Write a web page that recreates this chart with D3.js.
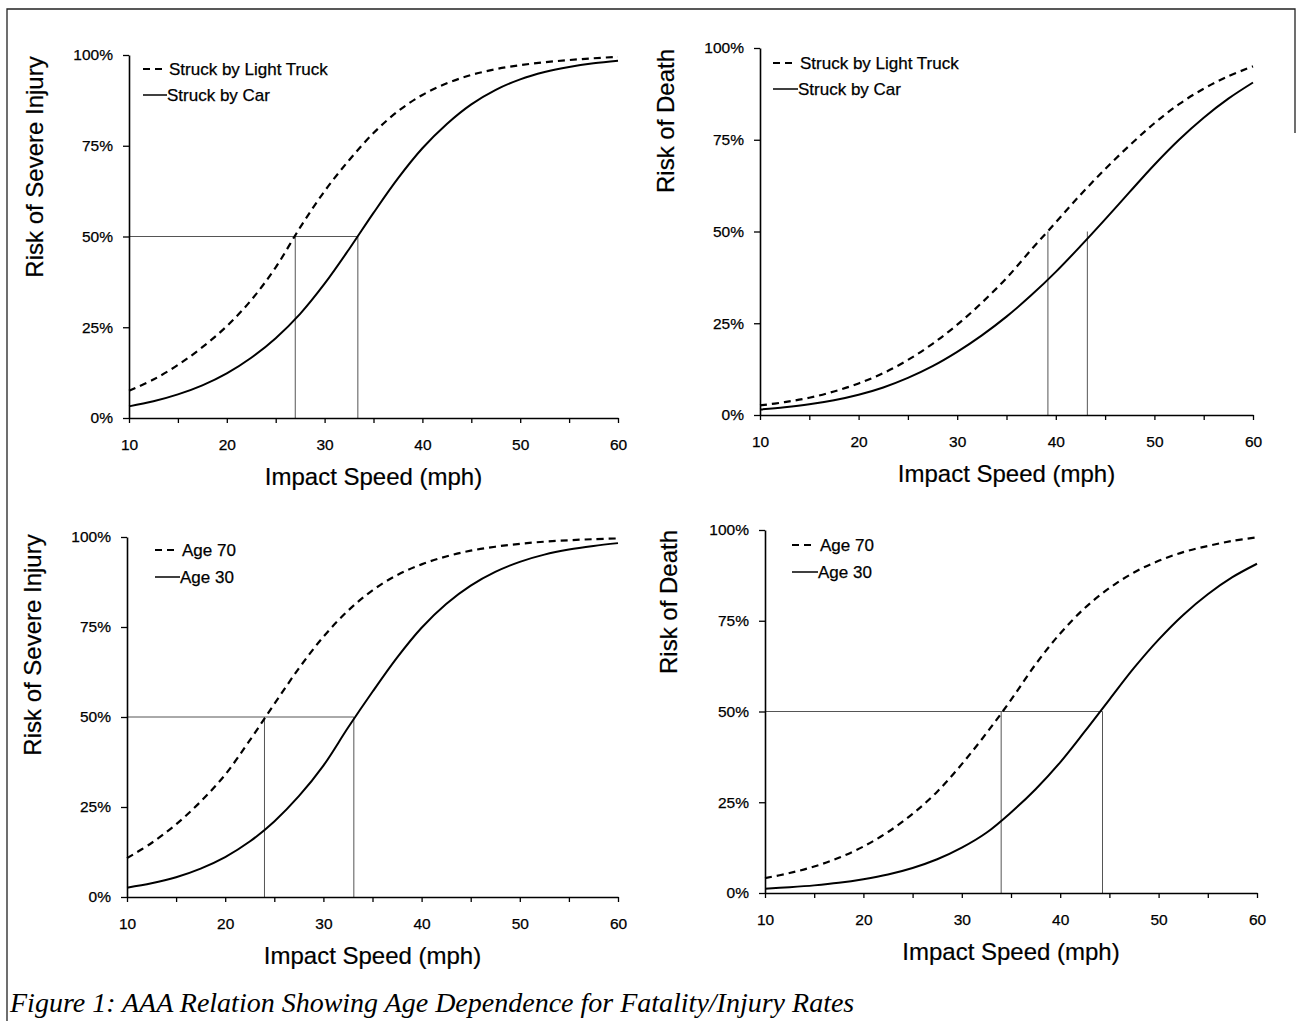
<!DOCTYPE html>
<html>
<head>
<meta charset="utf-8">
<script src="https://cdn.jsdelivr.net/npm/d3@7"></script>
<style>
  html, body { margin: 0; padding: 0; background: #fff; }
  svg { display: block; }
</style>
</head>
<body>
<script>
// ---------- DATA ----------
const speeds = [10, 12.5, 15, 17.5, 20, 22.5, 25, 27.5, 30, 32.5, 35, 37.5, 40, 42.5, 45, 47.5, 50, 52.5, 55, 57.5, 60];

// Top-left: Risk of severe injury by vehicle type (%)
const injuryTruck = [7.5, 10.6, 14.6, 19.5, 25.3, 32.5, 41.5, 52.5, 62.5, 71, 78.5, 84.5, 89, 92.2, 94.5, 96.1, 97.2, 98, 98.6, 99.1, 99.5];
const injuryCar   = [3.2, 4.6, 6.5, 9, 12.3, 16.6, 22, 28.7, 37, 46.5, 56.5, 66, 74.3, 81, 86.4, 90.4, 93.3, 95.3, 96.7, 97.7, 98.4];

// Top-right: Risk of death by vehicle type (%)
const deathTruck = [2.6, 3.5, 4.7, 6.4, 8.6, 11.4, 15, 19.4, 24.6, 30.6, 37.3, 45, 52.5, 60, 67, 73.5, 79.5, 84.7, 88.9, 92.3, 95];
const deathCar   = [1.5, 2.1, 2.9, 4, 5.5, 7.5, 10.1, 13.3, 17.2, 21.7, 26.8, 32.6, 39, 46, 53.3, 60.8, 68.2, 75, 81, 86.2, 90.6];

// Bottom-left: Risk of severe injury by age (%)
const injuryAge70 = [10.8, 15, 20.2, 26.5, 34, 43.5, 53.6, 63.5, 72.3, 79.5, 85.2, 89.4, 92.4, 94.6, 96.2, 97.3, 98.1, 98.7, 99.1, 99.4, 99.6];
const injuryAge30 = [2.6, 3.8, 5.5, 7.9, 11.1, 15.4, 21, 28, 36.5, 47, 57, 66.5, 74.8, 81.4, 86.5, 90.3, 93.1, 95.1, 96.5, 97.5, 98.3];

// Bottom-right: Risk of death by age (%)
const deathAge70 = [4.1, 5.5, 7.3, 9.7, 12.8, 16.8, 21.8, 27.9, 35.5, 44, 53.2, 63, 71.5, 78.5, 84, 88.3, 91.5, 93.9, 95.6, 97, 98];
const deathAge30 = [1.2, 1.6, 2.1, 2.8, 3.8, 5.1, 6.9, 9.3, 12.5, 16.6, 22.2, 28.6, 36, 44.5, 53.3, 62, 69.8, 76.6, 82.3, 87, 90.7];

// 50% reference speeds (mph)
const injuryVehicle50 = [27.0, 33.4];
const deathVehicle50  = [39.2, 43.2];
const injuryAge50     = [24.0, 33.1];
const deathAge50      = [34.0, 44.3];

const xTicks = [10, 15, 20, 25, 30, 35, 40, 45, 50, 55, 60];
const xTickLabels = [10, 20, 30, 40, 50, 60];
const yTicks = [0, 25, 50, 75, 100];

const vehicleLabels = ["Struck by Light Truck", "Struck by Car"];
const ageLabels = ["Age 70", "Age 30"];
const yTitleInjury = "Risk of Severe Injury";
const yTitleDeath = "Risk of Death";
const xTitle = "Impact Speed (mph)";
const caption = "Figure 1: AAA Relation Showing Age Dependence for Fatality/Injury Rates";

// ---------- LAYOUT ----------
const W = 1296, H = 1021;
const SANS = "'Liberation Sans', Arial, sans-serif";
const SERIF = "'Liberation Serif', 'Times New Roman', serif";
const panels = [
  { x0: 129, x1: 618, yTop: 55, yBot: 418, dashed: injuryTruck, solid: injuryCar, labels: vehicleLabels,
    yTitle: yTitleInjury, yTitleX: 35, yTitleY: 167, ref: injuryVehicle50, hLine: true,
    leg: { lx: 143, tx: 167, y1: 69, y2: 95 } },
  { x0: 760, x1: 1253, yTop: 48, yBot: 415, dashed: deathTruck, solid: deathCar, labels: vehicleLabels,
    yTitle: yTitleDeath, yTitleX: 666, yTitleY: 121, ref: deathVehicle50, hLine: false,
    leg: { lx: 773, tx: 798, y1: 63, y2: 89 } },
  { x0: 127, x1: 618, yTop: 537, yBot: 897, dashed: injuryAge70, solid: injuryAge30, labels: ageLabels,
    yTitle: yTitleInjury, yTitleX: 33, yTitleY: 645, ref: injuryAge50, hLine: true,
    leg: { lx: 155, tx: 180, y1: 550, y2: 577 } },
  { x0: 765, x1: 1257, yTop: 530, yBot: 893, dashed: deathAge70, solid: deathAge30, labels: ageLabels,
    yTitle: yTitleDeath, yTitleX: 669, yTitleY: 602, ref: deathAge50, hLine: true,
    leg: { lx: 792, tx: 818, y1: 545, y2: 572 } }
];

const svg = d3.select("body").append("svg").attr("width", W).attr("height", H);

// frame
svg.append("path").attr("d", `M7,${H} V9 H1295 V133`).attr("fill", "none").attr("stroke", "#222").attr("stroke-width", 1.3);

function txt(sel, size) {
  return sel.style("font-family", SANS).style("font-size", size + "px").style("fill", "#000")
    .style("stroke", "#000").style("stroke-width", "0.25px");
}

panels.forEach(p => {
  const g = svg.append("g");
  const x = d3.scaleLinear().domain([10, 60]).range([p.x0, p.x1]);
  const y = d3.scaleLinear().domain([0, 100]).range([p.yBot, p.yTop]);

  // reference lines
  const refG = g.append("g").attr("stroke", "#555").attr("stroke-width", 1).attr("fill", "none");
  if (p.hLine) {
    refG.append("line").attr("x1", x(10)).attr("x2", x(p.ref[1])).attr("y1", y(50)).attr("y2", y(50));
  }
  p.ref.forEach(v => {
    refG.append("line").attr("x1", x(v)).attr("x2", x(v)).attr("y1", y(50)).attr("y2", y(0));
  });

  // axes
  const xAxis = d3.axisBottom(x).tickValues(xTicks).tickSize(5).tickSizeOuter(0).tickPadding(16)
    .tickFormat(d => xTickLabels.includes(d) ? d : "");
  const yAxis = d3.axisLeft(y).tickValues(yTicks).tickSize(6).tickSizeOuter(0).tickPadding(10)
    .tickFormat(d => d + "%");
  const gx = g.append("g").attr("transform", `translate(0,${p.yBot})`).call(xAxis);
  const gy = g.append("g").attr("transform", `translate(${p.x0},0)`).call(yAxis);
  [gx, gy].forEach(a => {
    txt(a.selectAll("text"), 15.5);
    a.selectAll("line").attr("stroke", "#000").attr("stroke-width", 1.3);
    a.select(".domain").attr("stroke", "#000").attr("stroke-width", 1.6);
  });

  // curves
  const line = d3.line().x((d, i) => x(speeds[i])).y(d => y(d)).curve(d3.curveCatmullRom.alpha(0.5));
  g.append("path").datum(p.dashed).attr("d", line).attr("fill", "none")
    .attr("stroke", "#000").attr("stroke-width", 2.2).attr("stroke-dasharray", "7,5");
  g.append("path").datum(p.solid).attr("d", line).attr("fill", "none")
    .attr("stroke", "#000").attr("stroke-width", 2);

  // legend
  g.append("line").attr("x1", p.leg.lx).attr("x2", p.leg.lx + 22).attr("y1", p.leg.y1).attr("y2", p.leg.y1)
    .attr("stroke", "#000").attr("stroke-width", 2).attr("stroke-dasharray", "7,5");
  g.append("line").attr("x1", p.leg.lx).attr("x2", p.leg.tx).attr("y1", p.leg.y2).attr("y2", p.leg.y2)
    .attr("stroke", "#000").attr("stroke-width", 1.5);
  txt(g.append("text").attr("x", p.leg.tx + 2).attr("y", p.leg.y1 + 6).text(p.labels[0]), 17);
  txt(g.append("text").attr("x", p.leg.tx).attr("y", p.leg.y2 + 6).text(p.labels[1]), 17);

  // titles
  txt(g.append("text").attr("x", (p.x0 + p.x1) / 2).attr("y", p.yBot + 67).attr("text-anchor", "middle")
    .text(xTitle), 24).style("stroke-width", "0.2px");
  txt(g.append("text").attr("transform", `translate(${p.yTitleX + 8},${p.yTitleY}) rotate(-90)`)
    .attr("text-anchor", "middle").text(p.yTitle), 24).style("stroke-width", "0.2px");
});

// caption
svg.append("text").attr("x", 10).attr("y", 1012)
  .style("font-family", SERIF).style("font-style", "italic").style("font-size", "28px").style("fill", "#000")
  .text(caption);
</script>
</body>
</html>
